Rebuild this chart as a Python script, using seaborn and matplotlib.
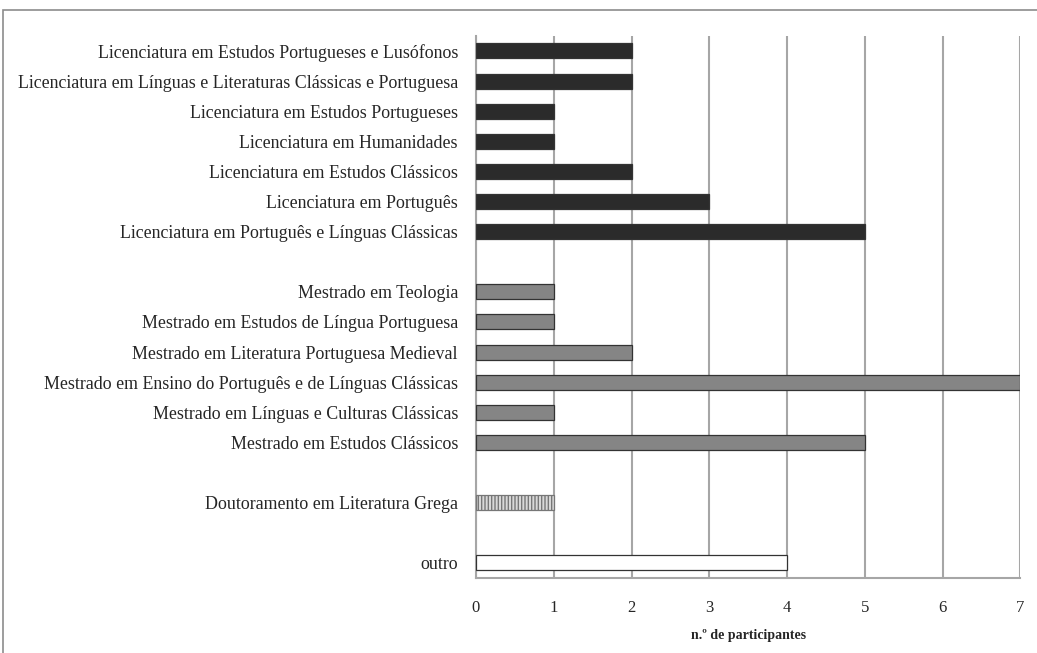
import numpy as np
import pandas as pd
import matplotlib
matplotlib.use('Agg')
import matplotlib.pyplot as plt
import seaborn as sns
from matplotlib.patches import Rectangle

# categories top to bottom (blank slots separate the groups)
licenciatura = [
    'Licenciatura em Estudos Portugueses e Lusófonos',
    'Licenciatura em Línguas e Literaturas Clássicas e Portuguesa',
    'Licenciatura em Estudos Portugueses',
    'Licenciatura em Humanidades',
    'Licenciatura em Estudos Clássicos',
    'Licenciatura em Português',
    'Licenciatura em Português e Línguas Clássicas',
]
licenciatura_vals = [2, 2, 1, 1, 2, 3, 5]

mestrado = [
    'Mestrado em Teologia',
    'Mestrado em Estudos de Língua Portuguesa',
    'Mestrado em Literatura Portuguesa Medieval',
    'Mestrado em Ensino do Português e de Línguas Clássicas',
    'Mestrado em Línguas e Culturas Clássicas',
    'Mestrado em Estudos Clássicos',
]
mestrado_vals = [1, 1, 2, 7, 1, 5]

doutoramento = ['Doutoramento em Literatura Grega']
doutoramento_vals = [1]

outro = ['outro']
outro_vals = [4]

x_ticks = [0, 1, 2, 3, 4, 5, 6, 7]

order = licenciatura + [' '] + mestrado + ['  '] + doutoramento + ['   '] + outro

df = pd.DataFrame({
    'curso': licenciatura + mestrado + doutoramento + outro,
    'n': licenciatura_vals + mestrado_vals + doutoramento_vals + outro_vals,
    'grupo': (['lic'] * len(licenciatura) + ['mes'] * len(mestrado)
              + ['dou'] * len(doutoramento) + ['out'] * len(outro)),
})

palette = {'lic': '#2b2b2b', 'mes': '#858585', 'dou': '#d9d9d9', 'out': '#ffffff'}

sns.set_style('white')
plt.rcParams['font.family'] = ['Liberation Serif', 'DejaVu Serif']

fig = plt.figure(figsize=(10.37, 6.53), dpi=100)
ax = fig.add_axes([0.459, 0.115, 0.525, 0.830])

sns.barplot(data=df, y='curso', x='n', hue='grupo', order=order, palette=palette,
            dodge=False, width=0.5, orient='h', legend=False, ax=ax,
            edgecolor='#333333', linewidth=0.9, zorder=3)

for p in ax.patches:
    fc = p.get_facecolor()
    if abs(fc[0] - 0xd9 / 255) < 0.01:
        p.set_hatch('|||||')
        p.set_edgecolor('#777777')

ax.set_xlim(0, 7)
ax.set_xticks(x_ticks)
ax.set_xticklabels([str(t) for t in x_ticks], fontsize=12)
ax.xaxis.grid(True, color='#a6a6a6', linewidth=1.5, zorder=0)
ax.set_axisbelow(True)
ax.set_ylim(len(order) - 0.5, -0.5)
ax.set_yticks(range(len(order)))
ax.set_yticklabels(order, fontsize=12.9)
ax.set_yticks(np.arange(-0.5, len(order), 1), minor=True)
ax.tick_params(axis='y', which='major', length=0, pad=13)
ax.tick_params(axis='y', which='minor', length=6, color='#a6a6a6', width=1.2)
ax.tick_params(axis='x', which='major', length=5, color='#a6a6a6', width=1.2, pad=11)

for s in ['top', 'right']:
    ax.spines[s].set_visible(False)
for s in ['left', 'bottom']:
    ax.spines[s].set_color('#a6a6a6')
    ax.spines[s].set_linewidth(1.5)

ax.set_ylabel('')
ax.set_xlabel('n.º de participantes', fontsize=10, fontweight='bold', labelpad=9)

# outer chart border (runs past the right and bottom edges)
fig.patches.append(Rectangle((0.003, -0.05), 1.05, 1.035, transform=fig.transFigure,
                             fill=False, edgecolor='#8c8c8c', linewidth=1.2))

plt.savefig('out.png', dpi=100)
plt.close()
